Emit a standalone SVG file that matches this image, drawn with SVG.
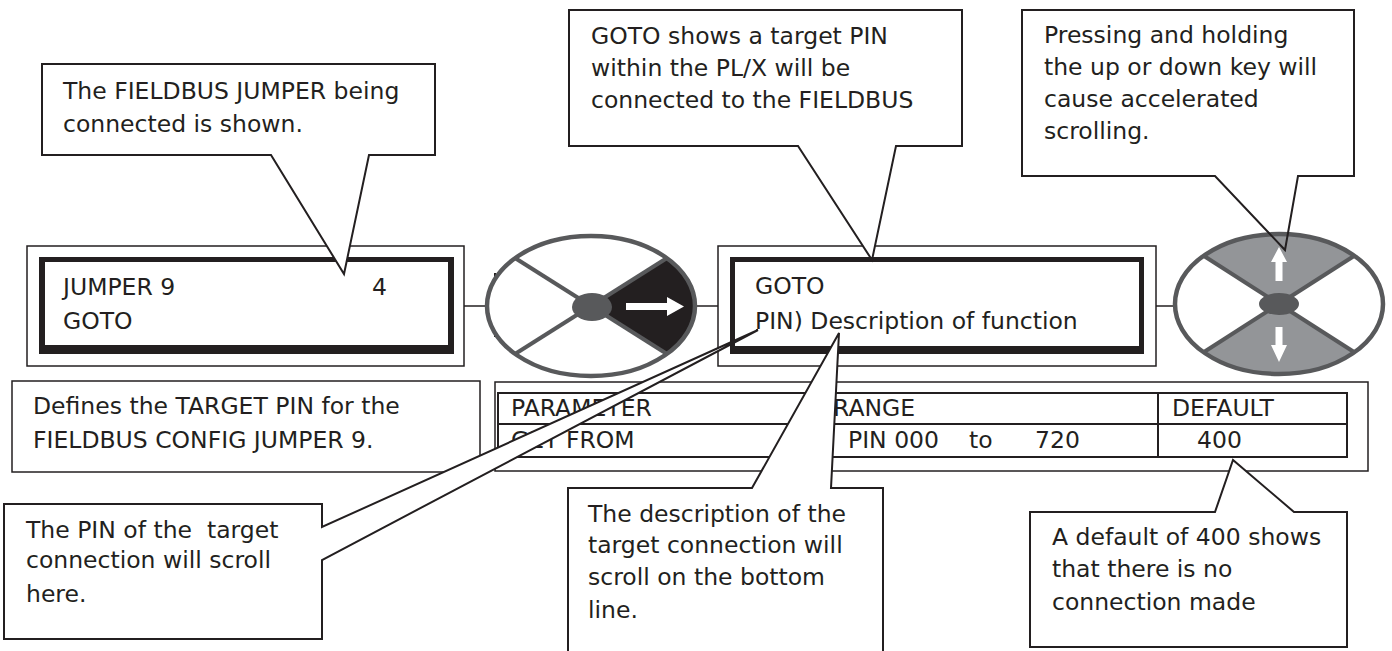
<svg xmlns="http://www.w3.org/2000/svg" width="1392" height="651" viewBox="0 0 1392 651">
<style>
text{font-family:"DejaVu Sans","Liberation Sans",sans-serif;font-size:23.5px;fill:#231f20}
.pre{white-space:pre}
.call{fill:#fff;stroke:#231f20;stroke-width:2;stroke-linejoin:miter}
.thin{fill:#fff;stroke:#231f20;stroke-width:1.5}
.ring{stroke:#58595b;stroke-width:4.5;fill:none}
.spoke{stroke:#58595b;stroke-width:4}
.conn{stroke:#231f20;stroke-width:1.5;fill:none}
</style>
<rect width="1392" height="651" fill="#fff"/>

<g id="connectors">
<line class="conn" x1="464" y1="306" x2="487" y2="306"/>
<line class="conn" x1="696" y1="306" x2="718" y2="306"/>
<line class="conn" x1="1156" y1="306" x2="1175" y2="306"/>
<line x1="495" y1="273" x2="495" y2="337" stroke="#231f20" stroke-width="2"/>
</g>

<g id="display-left">
<rect class="thin" x="27" y="246" width="437" height="120"/>
<rect x="39" y="257" width="415" height="97" fill="#231f20"/>
<rect x="45" y="262" width="403" height="83" fill="#fff"/>
<text x="63" y="295">JUMPER 9</text>
<text x="372" y="295">4</text>
<text x="63" y="329">GOTO</text>
</g>

<g id="display-center">
<rect class="thin" x="718" y="246" width="438" height="120"/>
<rect x="730" y="257" width="414" height="97" fill="#231f20"/>
<rect x="735" y="262" width="404" height="84" fill="#fff"/>
<text x="755" y="294">GOTO</text>
<text x="755" y="329">PIN) Description of function</text>
</g>

<g id="knob-right-key">
<ellipse cx="591" cy="306" rx="104" ry="70" fill="#fff"/>
<path d="M591,306 L667,258 A104,70 0 0,1 667,354 Z" fill="#231f20"/>
<line class="spoke" x1="591" y1="306" x2="667" y2="258"/>
<line class="spoke" x1="591" y1="306" x2="667" y2="354"/>
<line class="spoke" x1="591" y1="306" x2="515" y2="258"/>
<line class="spoke" x1="591" y1="306" x2="515" y2="354"/>
<ellipse class="ring" cx="591" cy="306" rx="104" ry="70"/>
<ellipse cx="592" cy="307" rx="20" ry="14" fill="#58595b"/>
<polygon points="626,303 667,303 667,297 684,306.5 667,316 667,310 626,310" fill="#fff"/>
</g>

<g id="knob-updown-keys">
<ellipse cx="1279" cy="304" rx="104" ry="70" fill="#fff"/>
<path d="M1279,304 L1204,256 A104,70 0 0,1 1354,256 Z" fill="#939598"/>
<path d="M1279,304 L1354,352 A104,70 0 0,1 1204,352 Z" fill="#939598"/>
<line class="spoke" x1="1279" y1="304" x2="1204" y2="256"/>
<line class="spoke" x1="1279" y1="304" x2="1354" y2="256"/>
<line class="spoke" x1="1279" y1="304" x2="1204" y2="352"/>
<line class="spoke" x1="1279" y1="304" x2="1354" y2="352"/>
<ellipse class="ring" cx="1279" cy="304" rx="104" ry="70"/>
<ellipse cx="1279" cy="304" rx="20" ry="11" fill="#58595b"/>
<polygon points="1275.5,281 1275.5,262 1271,262 1279,247 1287,262 1282.5,262 1282.5,281" fill="#fff"/>
<polygon points="1275.5,327 1275.5,345 1271,345 1279,362 1287,345 1282.5,345 1282.5,327" fill="#fff"/>
</g>

<g id="description-box">
<rect class="thin" x="12" y="381" width="468" height="91"/>
<text x="33" y="414">Defines the TARGET PIN for the</text>
<text x="33" y="448">FIELDBUS CONFIG JUMPER 9.</text>
</g>

<g id="parameter-table">
<rect class="thin" x="495" y="382" width="873" height="89"/>
<rect x="498" y="393" width="849" height="64" fill="none" stroke="#231f20" stroke-width="2"/>
<line x1="498" y1="424" x2="1347" y2="424" stroke="#231f20" stroke-width="2"/>
<line x1="1158" y1="393" x2="1158" y2="457" stroke="#231f20" stroke-width="2"/>
<text x="511" y="416">PARAMETER</text>
<text x="833" y="416">RANGE</text>
<text x="1172" y="416">DEFAULT</text>
<text x="511" y="448">GET FROM</text>
<text x="848" y="448">PIN 000</text>
<text x="969" y="448">to</text>
<text x="1035" y="448">720</text>
<text x="1197" y="448">400</text>
</g>

<g id="callout-jumper">
<path class="call" d="M42,64 H435 V155 H369 L344,274 L271,155 H42 Z"/>
<text x="63" y="99">The FIELDBUS JUMPER being</text>
<text x="63" y="132">connected is shown.</text>
</g>

<g id="callout-goto">
<path class="call" d="M569,10 H962 V146 H896 L872,260 L798,146 H569 Z"/>
<text x="591" y="44">GOTO shows a target PIN</text>
<text x="591" y="76">within the PL/X will be</text>
<text x="591" y="108">connected to the FIELDBUS</text>
</g>

<g id="callout-scrolling">
<rect x="1022" y="10" width="332" height="166" fill="#fff"/>
<path d="M1022,10 H1354 V176 H1298 L1285,250 L1215,176 H1022 Z" fill="none" stroke="#231f20" stroke-width="2"/>
<text x="1044" y="43">Pressing and holding</text>
<text x="1044" y="75">the up or down key will</text>
<text x="1044" y="107">cause accelerated</text>
<text x="1044" y="139">scrolling.</text>
</g>

<g id="callout-pin">
<path class="call" d="M4,504 H322 V527 L758,330 L322,560 V639 H4 Z"/>
<text class="pre" x="26" y="538" xml:space="preserve">The PIN of the  target</text>
<text x="26" y="568">connection will scroll</text>
<text x="26" y="602">here.</text>
</g>

<g id="callout-description">
<path class="call" d="M568,488 H752 L839,333 L831,488 H883 V662 H568 Z"/>
<text x="588" y="522">The description of the</text>
<text x="588" y="553">target connection will</text>
<text x="588" y="585">scroll on the bottom</text>
<text x="588" y="618">line.</text>
</g>

<g id="callout-default">
<path class="call" d="M1030,512 H1215 L1233,460 L1294,512 H1347 V647 H1030 Z"/>
<text x="1052" y="545">A default of 400 shows</text>
<text x="1052" y="577">that there is no</text>
<text x="1052" y="610">connection made</text>
</g>
</svg>
